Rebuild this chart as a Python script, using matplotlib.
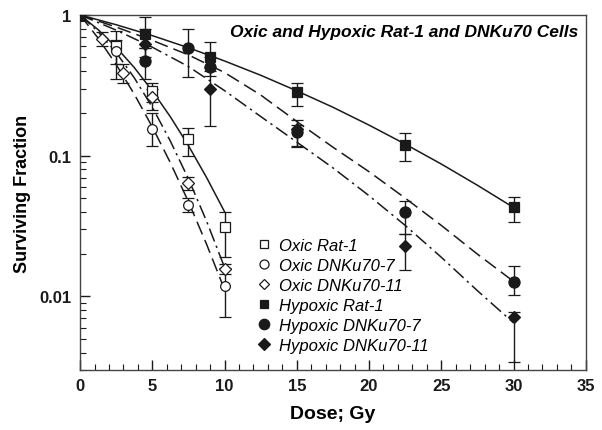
import numpy as np
import matplotlib.pyplot as plt
import matplotlib as mpl
from matplotlib.lines import Line2D

# Arial-like font for everything
mpl.rcParams["font.family"] = "Liberation Sans"
mpl.rcParams["font.size"] = 12

ink = "#1a1a1a"

# ---- measured points (dose in Gy, surviving fraction, error bar low/high) ----
# Oxic Rat-1
ox_rat_dose = [0, 2.5, 5, 7.5, 10]
ox_rat_sf = [1.0, 0.60, 0.29, 0.132, 0.031]
ox_rat_lo = [1.0, 0.35, 0.24, 0.10, 0.019]
ox_rat_hi = [1.0, 0.77, 0.33, 0.158, 0.040]

# Oxic DNKu70-7
ox_k7_dose = [0, 2.5, 5, 7.5, 10]
ox_k7_sf = [1.0, 0.555, 0.155, 0.045, 0.0118]
ox_k7_lo = [1.0, 0.45, 0.117, 0.040, 0.0072]
ox_k7_hi = [1.0, 0.66, 0.20, 0.050, 0.0160]

# Oxic DNKu70-11
ox_k11_dose = [0, 1.5, 3, 5, 7.5, 10]
ox_k11_sf = [1.0, 0.68, 0.39, 0.26, 0.064, 0.0157]
ox_k11_lo = [1.0, 0.60, 0.33, 0.21, 0.057, 0.0145]
ox_k11_hi = [1.0, 0.76, 0.45, 0.30, 0.071, 0.0170]

# Hypoxic Rat-1
hy_rat_dose = [0, 4.5, 9, 15, 22.5, 30]
hy_rat_sf = [1.0, 0.73, 0.50, 0.284, 0.120, 0.0435]
hy_rat_lo = [1.0, 0.58, 0.43, 0.225, 0.092, 0.034]
hy_rat_hi = [1.0, 0.97, 0.64, 0.330, 0.145, 0.051]

# Hypoxic DNKu70-7
hy_k7_dose = [0, 4.5, 7.5, 9, 15, 22.5, 30]
hy_k7_sf = [1.0, 0.47, 0.58, 0.43, 0.148, 0.040, 0.0126]
hy_k7_lo = [1.0, 0.35, 0.36, 0.37, 0.118, 0.028, 0.0103]
hy_k7_hi = [1.0, 0.58, 0.80, 0.50, 0.180, 0.048, 0.0165]

# Hypoxic DNKu70-11
hy_k11_dose = [0, 4.5, 9, 15, 22.5, 30]
hy_k11_sf = [1.0, 0.62, 0.30, 0.155, 0.023, 0.0072]
hy_k11_lo = [1.0, 0.50, 0.163, 0.115, 0.0155, 0.0034]
hy_k11_hi = [1.0, 0.80, 0.40, 0.165, 0.028, 0.0078]

# ---- fitted curves ----
fit_ox_dose = [0, 1.25, 2.5, 3.75, 5, 6.25, 7.5, 8.75, 10]
fit_ox_rat = [1.0, 0.786, 0.590, 0.423, 0.289, 0.189, 0.118, 0.0702, 0.040]
fit_ox_k7 = [1.0, 0.684, 0.444, 0.274, 0.160, 0.0892, 0.0471, 0.0236, 0.0112]
fit_ox_k11 = [1.0, 0.761, 0.540, 0.358, 0.221, 0.127, 0.0685, 0.0344, 0.0161]

fit_hy_dose = [0, 2.5, 5, 7.5, 10, 12.5, 15, 17.5, 20, 22.5, 25, 27.5, 30]
fit_hy_rat = [1.0, 0.852, 0.713, 0.585, 0.471, 0.373, 0.289, 0.221, 0.165, 0.121, 0.0873, 0.0617, 0.0429]
fit_hy_k7 = [1.0, 0.82, 0.66, 0.52, 0.39, 0.27, 0.175, 0.115, 0.077, 0.050, 0.032, 0.020, 0.0128]
fit_hy_k11 = [1.0, 0.78, 0.59, 0.43, 0.29, 0.19, 0.125, 0.082, 0.052, 0.032, 0.019, 0.011, 0.0065]

fig = plt.figure(figsize=(6.02, 4.31), dpi=100)
ax = fig.add_axes([0.133, 0.139, 0.840, 0.824])

dash = (0, (9, 4))
dashdot = (0, (9, 3, 1.5, 3))

# fit lines
ax.plot(fit_ox_dose, fit_ox_rat, color=ink, lw=1.1, linestyle="-")
ax.plot(fit_ox_dose, fit_ox_k7, color=ink, lw=1.1, linestyle=dash)
ax.plot(fit_ox_dose, fit_ox_k11, color=ink, lw=1.1, linestyle=dashdot)
ax.plot(fit_hy_dose, fit_hy_rat, color=ink, lw=1.1, linestyle="-")
ax.plot(fit_hy_dose, fit_hy_k7, color=ink, lw=1.1, linestyle=dash)
ax.plot(fit_hy_dose, fit_hy_k11, color=ink, lw=1.1, linestyle=dashdot)

series = [
    ("Oxic Rat-1", ox_rat_dose, ox_rat_sf, ox_rat_lo, ox_rat_hi, "s", "white", 6.5),
    ("Oxic DNKu70-7", ox_k7_dose, ox_k7_sf, ox_k7_lo, ox_k7_hi, "o", "white", 7),
    ("Oxic DNKu70-11", ox_k11_dose, ox_k11_sf, ox_k11_lo, ox_k11_hi, "D", "white", 6),
    ("Hypoxic Rat-1", hy_rat_dose, hy_rat_sf, hy_rat_lo, hy_rat_hi, "s", ink, 6.5),
    ("Hypoxic DNKu70-7", hy_k7_dose, hy_k7_sf, hy_k7_lo, hy_k7_hi, "o", ink, 8),
    ("Hypoxic DNKu70-11", hy_k11_dose, hy_k11_sf, hy_k11_lo, hy_k11_hi, "D", ink, 6.5),
]

handles = []
for label, d, sf, lo, hi, mk, fc, ms in series:
    sf = np.array(sf)
    yerr = [sf - np.array(lo), np.array(hi) - sf]
    ax.errorbar(d, sf, yerr=yerr, fmt=mk, color=ink, mfc=fc, mec=ink,
                ms=ms, mew=0.9, elinewidth=1.0, capsize=4.5, capthick=1.0, zorder=3)
    handles.append(Line2D([], [], marker=mk, linestyle="none", color=ink,
                          mfc=fc, mec=ink, ms=ms - 0.5, mew=0.9, label=label))

ax.set_yscale("log")
ax.set_xlim(0, 35)
ax.set_ylim(0.003, 1)
ax.set_xticks(np.arange(0, 36, 5))
ax.set_xticks(np.arange(0, 36, 1), minor=True)
ax.set_yticks([0.01, 0.1, 1])
ax.set_yticklabels(["0.01", "0.1", "1"])
ax.yaxis.set_minor_formatter(mpl.ticker.NullFormatter())

ax.tick_params(which="both", direction="in", top=False, right=False, colors=ink)
ax.tick_params(which="major", length=7, width=1.0, labelsize=12, pad=6)
ax.tick_params(which="minor", length=4, width=0.8)
for t in ax.get_xticklabels() + ax.get_yticklabels():
    t.set_fontweight("bold")
for s in ax.spines.values():
    s.set_color("#444444")
    s.set_linewidth(1.0)

ax.set_xlabel("Dose; Gy", fontsize=14, fontweight="bold", labelpad=8)
ax.set_ylabel("Surviving Fraction", fontsize=13, fontweight="bold", labelpad=6)

ax.text(0.985, 0.952, "Oxic and Hypoxic Rat-1 and DNKu70 Cells", transform=ax.transAxes,
        ha="right", va="center", fontsize=12.5, fontweight="bold", style="italic")

ax.legend(handles=handles, loc="upper left", bbox_to_anchor=(0.335, 0.395), frameon=False,
          prop={"style": "italic", "size": 12}, handlelength=0.8, handletextpad=0.5,
          labelspacing=0.3, borderpad=0)

fig.savefig("out.png", dpi=100)
